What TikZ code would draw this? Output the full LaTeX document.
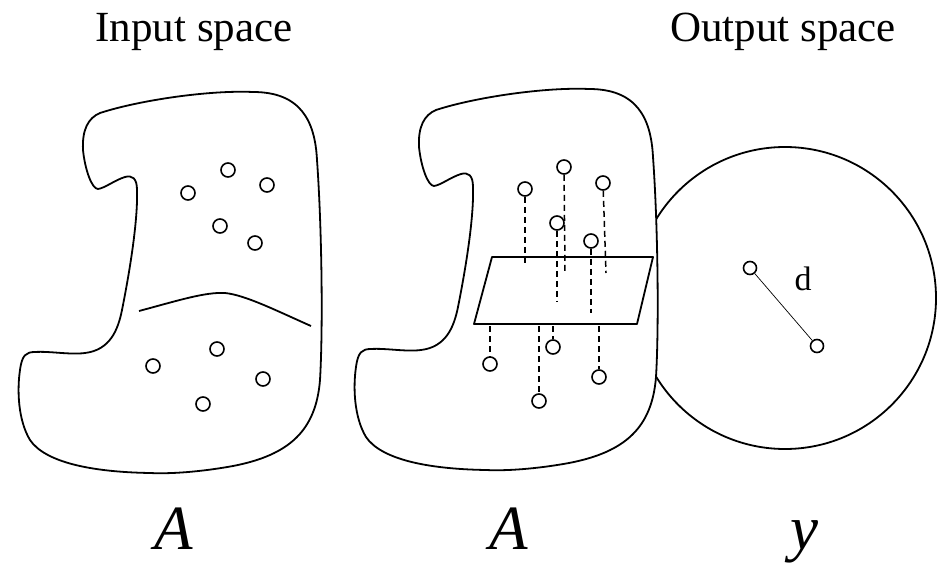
\documentclass[tikz,border=0pt]{standalone}
\usepackage{fontspec}
\setmainfont{Liberation Serif}
\begin{document}
\begin{tikzpicture}[x=1pt,y=-1pt,
  outline/.style={line width=1.8pt,line join=round},
  sample/.style={circle,draw,line width=1.6pt,minimum size=14pt,inner sep=0pt,fill=white},
  proj/.style={line width=1.5pt,dash pattern=on 6pt off 4pt},
  heading/.style={anchor=base,font=\fontsize{43}{50}\selectfont},
  setname/.style={anchor=base,font=\fontsize{63}{70}\selectfont\itshape}]
\useasboundingbox (0,0) rectangle (941,564);

% region outline used for both copies of the input space
\def\regionpath{
  (100,113) .. controls (140,100) and (210,90) .. (253,92)
  .. controls (300,92) and (315,120) .. (317,160)
  .. controls (322,230) and (323,330) .. (320,380)
  .. controls (316,430) and (290,455) .. (233,466)
  .. controls (200,472) and (170,474) .. (150,473)
  .. controls (90,472) and (45,462) .. (30,440)
  .. controls (18,420) and (17,390) .. (20,370)
  .. controls (22,355) and (26,352) .. (35,352)
  .. controls (50,351) and (70,355) .. (85,353)
  .. controls (110,350) and (118,330) .. (122,310)
  .. controls (130,270) and (138,220) .. (137,190)
  .. controls (137,178) and (132,175) .. (125,177)
  .. controls (115,180) and (105,188) .. (98,189)
  .. controls (92,189) and (85,170) .. (83,150)
  .. controls (82,130) and (88,118) .. (100,113) -- cycle}

% headings
\node[heading] (tin) at (194,42) {Input space};
\node[heading] (tout) at (783,42) {Output space};

% ---- left: input space split by a boundary curve ----
\draw[outline] \regionpath;
\draw[outline] (139,311) .. controls (180,300) and (205,292) .. (225,293)
  .. controls (245,295) and (275,310) .. (311,326);
\node[sample] (a1) at (188,193) {};
\node[sample] (a2) at (228,170) {};
\node[sample] (a3) at (267,185) {};
\node[sample] (a4) at (220,226) {};
\node[sample] (a5) at (255,243) {};
\node[sample] (a6) at (153,366) {};
\node[sample] (a7) at (217,349) {};
\node[sample] (a8) at (263,379) {};
\node[sample] (a9) at (203,404) {};
\node[setname] (lA) at (174,549) {A};

% ---- right: output space ----
\draw[outline] (785,298) circle[radius=151];
\node[sample,minimum size=13pt] (o1) at (750,268) {};
\node[sample,minimum size=13pt] (o2) at (817,346) {};
\draw[line width=0.7pt] (o1) -- (o2);
\node[anchor=base,font=\fontsize{34}{40}\selectfont] (dl) at (803,290) {d};
\node[setname] (ly) at (804,549) {y};

% ---- middle: input space with a separating plane ----
\begin{scope}[shift={(336,-3)}]
  \filldraw[outline,fill=white] \regionpath;
\end{scope}
\draw[outline] (492,257) coordinate (pa) -- (653,257) coordinate (pb)
  -- (637,324) coordinate (pc) -- (474,324) coordinate (pd) -- cycle;

\node[sample] (b1) at (525,189) {};
\node[sample] (b2) at (564,167) {};
\node[sample] (b3) at (603,183) {};
\node[sample] (b4) at (557,223) {};
\node[sample] (b5) at (591,241) {};
\node[sample] (b6) at (490,364) {};
\node[sample] (b7) at (553,347) {};
\node[sample] (b8) at (599,377) {};
\node[sample] (b9) at (539,401) {};

\coordinate (e1) at (525,265);
\coordinate (e2) at (565,272);
\coordinate (e3) at (606,273);
\coordinate (e4) at (557,302);
\coordinate (e5) at (591,313);
\coordinate (f6) at (490,326);
\coordinate (f7) at (553,326);
\coordinate (f8) at (599,326);
\coordinate (f9) at (539,326);

\draw[proj] (b1) -- (e1);
\draw[proj] (b2) -- (e2);
\draw[proj] (b3) -- (e3);
\draw[proj] (b4) -- (e4);
\draw[proj] (b5) -- (e5);
\draw[proj] (f6) -- (b6);
\draw[proj] (f7) -- (b7);
\draw[proj] (f8) -- (b8);
\draw[proj] (f9) -- (b9);

\node[setname] (mA) at (509,549) {A};
\end{tikzpicture}
\end{document}
